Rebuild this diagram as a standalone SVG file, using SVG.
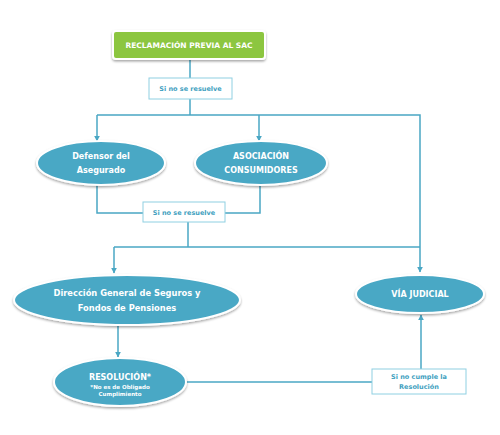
<svg xmlns="http://www.w3.org/2000/svg" width="500" height="435" viewBox="0 0 500 435">
<defs>
<filter id="sh" x="-20%" y="-30%" width="140%" height="160%">
<feDropShadow dx="0" dy="1.5" stdDeviation="1.2" flood-color="#000" flood-opacity="0.35"/>
</filter>
<marker id="ar" viewBox="0 0 10 10" refX="9" refY="5" markerWidth="6" markerHeight="6" orient="auto" markerUnits="userSpaceOnUse">
<path d="M0,0 L10,5 L0,10 z" fill="#4aa7c4"/>
</marker>
<style>
.node{fill:#4aa8c5;stroke:#fff;stroke-width:2;filter:url(#sh)}
.green{fill:#8cc63f;stroke:#fff;stroke-width:2;filter:url(#sh)}
.lbl{fill:#fff;stroke:#8fd0e2;stroke-width:1}
.t{font-family:"DejaVu Sans",Verdana,sans-serif;font-weight:bold;fill:#fff;text-anchor:middle}
.lt{font-family:"DejaVu Sans",Verdana,sans-serif;font-weight:bold;fill:#3f9fc0;text-anchor:middle;font-size:6.5px}
.c{fill:none;stroke:#4aa7c4;stroke-width:1.5}
</style>
</defs>
<rect width="500" height="435" fill="#fff"/>
<g id="connectors">
<path class="c" d="M190,59 V78"/>
<path class="c" d="M190,99 V115"/>
<path class="c" d="M97,115 H420 V272" marker-end="url(#ar)"/>
<path class="c" d="M97,115 V141" marker-end="url(#ar)"/>
<path class="c" d="M259,115 V141" marker-end="url(#ar)"/>
<path class="c" d="M97,185 V213 H143"/>
<path class="c" d="M260,185 V213 H225"/>
<path class="c" d="M188,222 V247"/>
<path class="c" d="M114,247 H420"/>
<path class="c" d="M114,247 V273" marker-end="url(#ar)"/>
<path class="c" d="M118,326 V357" marker-end="url(#ar)"/>
<path class="c" d="M186,382 H372"/>
<path class="c" d="M421,369 V315" marker-end="url(#ar)"/>
</g>
<g id="reclamacion">
<rect class="green" x="113" y="31" width="152" height="28" rx="3"/>
<text class="t" x="189" y="48" font-size="7.5">RECLAMACIÓN PREVIA AL SAC</text>
</g>
<g id="label1">
<rect class="lbl" x="149" y="78" width="83" height="21"/>
<text class="lt" x="190.5" y="91">Si no se resuelve</text>
</g>
<g id="defensor">
<ellipse class="node" cx="101" cy="163" rx="64" ry="22"/>
<text class="t" x="101" y="159" font-size="8">Defensor del</text>
<text class="t" x="101" y="173" font-size="8">Asegurado</text>
</g>
<g id="asociacion">
<ellipse class="node" cx="261" cy="163" rx="66" ry="22"/>
<text class="t" x="261" y="159" font-size="8">ASOCIACIÓN</text>
<text class="t" x="261" y="173" font-size="8">CONSUMIDORES</text>
</g>
<g id="label2">
<rect class="lbl" x="143" y="202" width="82" height="20"/>
<text class="lt" x="184" y="215">Si no se resuelve</text>
</g>
<g id="direccion">
<ellipse class="node" cx="127" cy="300" rx="113" ry="25"/>
<text class="t" x="127" y="296" font-size="8.3">Dirección General de Seguros y</text>
<text class="t" x="127" y="311" font-size="8.3">Fondos de Pensiones</text>
</g>
<g id="via">
<ellipse class="node" cx="420" cy="294" rx="64" ry="19"/>
<text class="t" x="420" y="297" font-size="8">VÍA JUDICIAL</text>
</g>
<g id="resolucion">
<ellipse class="node" cx="120" cy="382" rx="66" ry="24"/>
<text class="t" x="120" y="380" font-size="8">RESOLUCIÓN*</text>
<text class="t" x="120" y="388.5" font-size="5.5">*No es de Obligado</text>
<text class="t" x="120" y="395.5" font-size="5.5">Cumplimiento</text>
</g>
<g id="label3">
<rect class="lbl" x="372" y="369" width="94" height="25"/>
<text class="lt" x="419" y="379">Si no cumple la</text>
<text class="lt" x="419" y="389">Resolución</text>
</g>
</svg>
